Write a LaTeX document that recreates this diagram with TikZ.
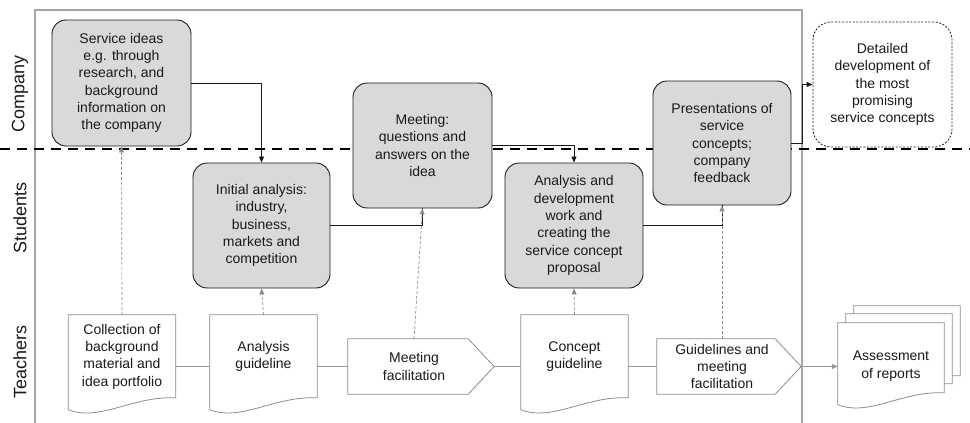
\documentclass[tikz,border=0pt]{standalone}
\usepackage{fontspec}
\setmainfont{Liberation Sans}
\usetikzlibrary{calc,arrows.meta,backgrounds}

\definecolor{boxgray}{HTML}{D9D9D9}
\definecolor{framegray}{HTML}{A6A6A6}
\definecolor{linkgray}{HTML}{8C8C8C}
\definecolor{inkblack}{HTML}{1A1A1A}

% document symbol with a wavy bottom edge: node, height, x offset, y offset
\newcommand\docshape[4]{%
  \draw[docline, fill=white]
    ($(#1.north west)+(#3,#4)$) -- ($(#1.north east)+(#3,#4)$) -- ++(0,#2)
    .. controls +(-43,-2) and +(32,12) .. ($(#1.north west)+(#3,#4+#2+12)$) -- cycle;}

% pentagon (arrow-like) symbol around a node: node
\newcommand\penta[1]{%
  \draw[docline, fill=white]
    (#1.north west) -- ($(#1.north east)+(-12,0)$) -- ($(#1.east)+(14,0)$)
    -- ($(#1.south east)+(-12,0)$) -- (#1.south west) -- cycle;}

\begin{document}
\begin{tikzpicture}[x=1pt,y=-1pt,
  font=\fontsize{14}{17.3}\selectfont, text=inkblack,
  task/.style={draw=inkblack, fill=boxgray, line width=0.9pt, rounded corners=14pt,
    align=center, inner sep=0pt},
  future/.style={draw=inkblack, fill=white, line width=0.8pt, rounded corners=18pt,
    dash pattern=on 2pt off 1.6pt, align=center, inner sep=0pt},
  docnode/.style={minimum width=107, minimum height=83, inner sep=0pt, align=center},
  pentnode/.style={minimum height=55, inner sep=0pt, align=center},
  docline/.style={draw=linkgray, line width=0.8pt},
  lane/.style={rotate=90, font=\fontsize{18}{20}\selectfont},
  flow/.style={draw=inkblack, line width=0.8pt, -{Triangle[length=6pt,width=5pt]}},
  flowline/.style={draw=inkblack, line width=0.8pt},
  hint/.style={draw=linkgray, line width=0.7pt, dash pattern=on 3pt off 2pt,
    -{Triangle[length=6pt,width=5pt]}},
  rowline/.style={draw=linkgray!90, line width=0.8pt},
]
\useasboundingbox (0,0) rectangle (970,423);

% swimlane frame and company/students boundary
\draw[framegray, line width=1.1pt] (35,423) -- (35,10) -- (802,10) -- (802,423);
\draw[black, line width=2.6pt, dash pattern=on 10pt off 7pt] (0,149) -- (970,149);

% lane titles
\node[lane] (lcomp) at (20,94) {Company};
\node[lane] (lstud) at (20,218) {Students};
\node[lane] (lteach) at (20,362) {Teachers};

% company and student activities
\node[task, minimum width=139, minimum height=126] (si) at (121.5,83)
  {Service ideas\\e.g. through\\research, and\\background\\information on\\the company};
\node[task, minimum width=137, minimum height=125] (ia) at (261.5,225.5)
  {Initial analysis:\\industry,\\business,\\markets and\\competition};
\node[task, minimum width=139, minimum height=125] (mq) at (422.5,145.5)
  {Meeting:\\questions and\\answers on the\\idea};
\node[task, minimum width=138, minimum height=125] (ad) at (574,225.5)
  {Analysis and\\development\\work and\\creating the\\service concept\\proposal};
\node[task, minimum width=138, minimum height=124] (pf) at (722,143)
  {Presentations of\\service\\concepts;\\company\\feedback};
\node[future, minimum width=139, minimum height=125] (dd) at (882.5,84.5)
  {Detailed\\development of\\the most\\promising\\service concepts};

% teacher support material
\node[docnode] (ca) at (122,356.5)
  {Collection of\\background\\material and\\idea portfolio};
\node[docnode] (ag) at (263.5,356.5) {Analysis\\guideline};
\node[pentnode, minimum width=132] (mf) at (414,366.5) {Meeting\\facilitation};
\node[docnode] (cg) at (574.5,356.5) {Concept\\guideline};
\node[pentnode, minimum width=130] (gm) at (722,366.5)
  {Guidelines and\\meeting\\facilitation};
\node[minimum width=106, minimum height=86, inner sep=0pt, align=center] (as)
  at (891,366) {Assessment\\of reports};

\coordinate (mft) at ($(mf.east)+(14,0)$);
\coordinate (gmt) at ($(gm.east)+(14,0)$);

\begin{pgfonlayer}{background}
  \docshape{ca}{83}{0}{0}
  \docshape{ag}{83}{0}{0}
  \docshape{cg}{83}{0}{0}
  \penta{mf}
  \penta{gm}
  \docshape{as}{70}{16}{-17}
  \docshape{as}{70}{8}{-9}
  \docshape{as}{70}{0}{0}
\end{pgfonlayer}

% teacher row sequence
\draw[rowline] (ca.east |- mf.west) -- (ag.west |- mf.west);
\draw[rowline] (ag.east |- mf.west) -- (mf.west);
\draw[rowline] (mft) -- (cg.west |- mft);
\draw[rowline] (cg.east |- gm.west) -- (gm.west);
\draw[rowline, -{Triangle[length=6pt,width=5pt]}] (gmt) -- (as.west |- gmt);

% main process flow
\draw[flow] (si.east) -| (ia.north);
\draw[flowline] (ia.east) -| (mq.south);
\draw[flow] (mq.east) -| (ad.north);
\draw[flowline] (ad.east) -| (pf.south);
\draw[flow] (pf.east) -- ++(11,0) |- (dd.west);

% teacher support links
\draw[hint] (ca.north) -- (si.south);
\draw[hint] (ag.north) -- (ia.south);
\draw[hint] (mf.north) -- (mq.south);
\draw[hint] (cg.north) -- (ad.south);
\draw[hint] (gm.north) -- (pf.south);
\end{tikzpicture}
\end{document}
